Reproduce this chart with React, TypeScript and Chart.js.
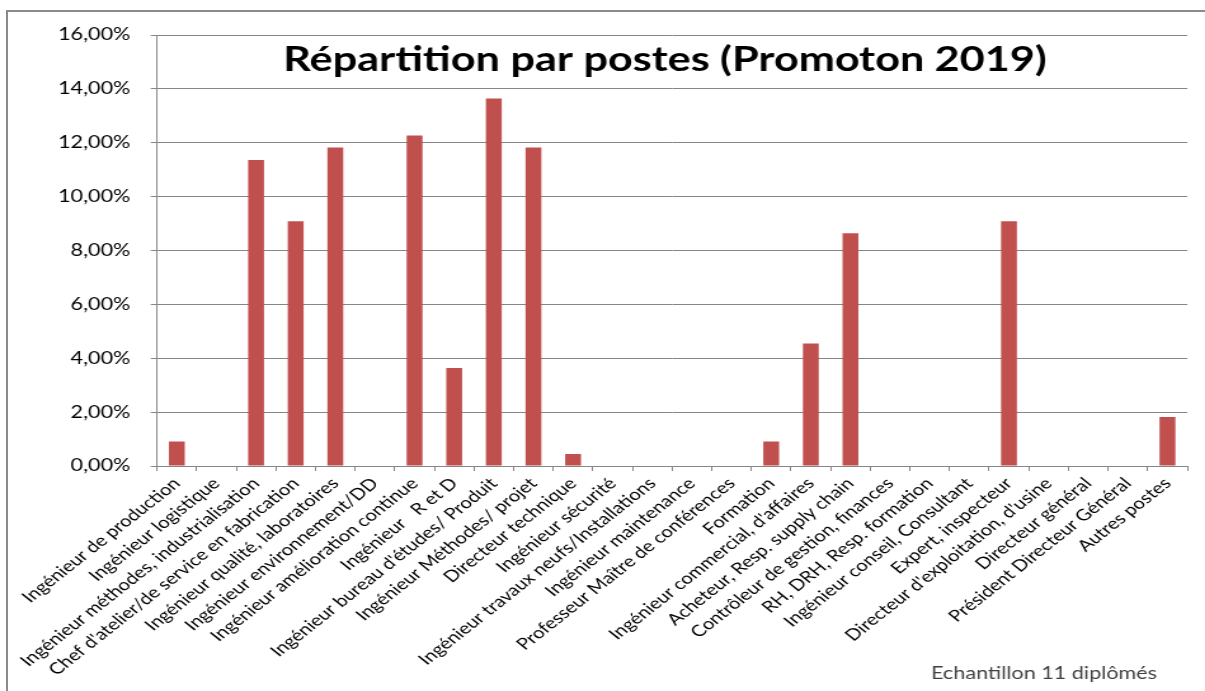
import { useEffect, useRef } from "react";
import { Chart, registerables } from "chart.js";

Chart.register(...registerables);

// ---- data ----
const categories: string[] = [
  "Ingénieur de production",
  "Ingénieur logistique",
  "Ingénieur méthodes, industrialisation",
  "Chef d'atelier/de service en fabrication",
  "Ingénieur qualité, laboratoires",
  "Ingénieur environnement/DD",
  "Ingénieur amélioration continue",
  "Ingénieur   R et D",
  "Ingénieur bureau d'études/ Produit",
  "Ingénieur Méthodes/ projet",
  "Directeur technique",
  "Ingénieur sécurité",
  "Ingénieur travaux neufs/Installations",
  "Ingénieur maintenance",
  "Professeur Maître de conférences",
  "Formation",
  "Ingénieur commercial, d'affaires",
  "Acheteur, Resp. supply chain",
  "Contrôleur de gestion, finances",
  "RH, DRH, Resp. formation",
  "Ingénieur conseil, Consultant",
  "Expert, inspecteur",
  "Directeur d'exploitation, d'usine",
  "Directeur général",
  "Président Directeur Général",
  "Autres postes",
];

const shares = [
  0.91, 0, 11.36, 9.09, 11.82, 0, 12.27, 3.64, 13.64, 11.82, 0.45, 0, 0, 0, 0,
  0.91, 4.55, 8.64, 0, 0, 0, 9.09, 0, 0, 0, 1.82,
];

const yMin = 0;
const yMax = 16;
const yStep = 2;

const titleText = "Répartition par postes (Promoton 2019)";
const noteText = "Echantillon 11 diplômés";

// ---- layout (the reference is a horizontally stretched picture) ----
const STRETCH = 1.2698;
const CW = 949;
const CH = 691;

const textPlugin = {
  id: "textPlugin",
  afterDraw(chart: any) {
    const ctx = chart.ctx as CanvasRenderingContext2D;
    ctx.save();
    ctx.fillStyle = "#000000";
    ctx.font = "bold 34px Lato";
    ctx.textAlign = "center";
    ctx.textBaseline = "alphabetic";
    ctx.fillText(titleText, 665 / STRETCH, 71);
    ctx.fillStyle = "#404040";
    ctx.font = "17px Lato";
    ctx.textAlign = "right";
    ctx.fillText(noteText, 1157 / STRETCH, 679);
    ctx.restore();
  },
};

export default function App() {
  const ref = useRef<HTMLCanvasElement | null>(null);

  useEffect(() => {
    if (!ref.current) return;
    const chart = new Chart(ref.current, {
      type: "bar",
      data: {
        labels: categories,
        datasets: [
          {
            label: "Répartition",
            data: shares,
            backgroundColor: "#C0504D",
            borderWidth: 0,
            barPercentage: 0.4,
            categoryPercentage: 1,
          },
        ],
      },
      options: {
        animation: false,
        responsive: false,
        devicePixelRatio: 1,
        layout: { padding: { top: 35, right: 14, left: 0, bottom: 0 } },
        plugins: {
          legend: { display: false },
          tooltip: { enabled: false },
          title: { display: false },
        },
        scales: {
          x: {
            offset: true,
            grid: {
              display: true,
              drawOnChartArea: false,
              drawTicks: true,
              tickLength: 5,
              color: "#868686",
              offset: true,
            },
            border: { color: "#868686", width: 1 },
            ticks: {
              autoSkip: false,
              minRotation: 45,
              maxRotation: 45,
              padding: 3,
              color: "#000000",
              font: { family: "Lato", size: 16 },
            },
            afterFit: (s: any) => {
              s.height = CH - 466;
            },
          },
          y: {
            min: yMin,
            max: yMax,
            grid: {
              color: "#868686",
              lineWidth: 1,
              drawTicks: true,
              tickLength: 5,
            },
            border: { color: "#868686", width: 1 },
            ticks: {
              stepSize: yStep,
              padding: 16,
              color: "#000000",
              font: { family: "Lato", size: 17 },
              callback: (v: any) => Number(v).toFixed(2).replace(".", ",") + "%",
            },
            afterFit: (s: any) => {
              s.width = 157 / STRETCH;
            },
          },
        },
      },
      plugins: [textPlugin],
    });
    return () => chart.destroy();
  }, []);

  return (
    <div
      style={{
        position: "fixed",
        left: 0,
        top: 0,
        width: 1205,
        height: 691,
        overflow: "hidden",
        background: "#ffffff",
      }}
    >
      <div
        style={{
          position: "absolute",
          left: 6,
          top: 10,
          width: 1300,
          height: 800,
          border: "2px solid #8a8a8a",
          boxSizing: "border-box",
        }}
      />
      <canvas
        ref={ref}
        width={CW}
        height={CH}
        style={{
          position: "absolute",
          left: 0,
          top: 0,
          width: CW,
          height: CH,
          transform: `scaleX(${STRETCH})`,
          transformOrigin: "0 0",
        }}
      />
    </div>
  );
}
